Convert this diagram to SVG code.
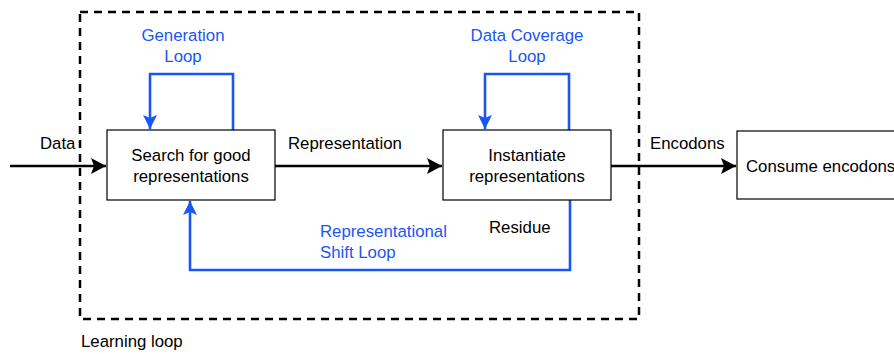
<svg xmlns="http://www.w3.org/2000/svg" width="894" height="354" viewBox="0 0 894 354">
<style>
text{font-family:"Liberation Sans",Arial,sans-serif;font-size:16.8px;fill:#000}
.blue{fill:#1a56f5}
.box{fill:#fff;stroke:#000;stroke-width:1.2}
.blk{fill:none;stroke:#000;stroke-width:2.4}
.bl{fill:none;stroke:#1a56f5;stroke-width:2.6}
</style>
<defs>
<marker id="ab" markerUnits="userSpaceOnUse" markerWidth="16" markerHeight="18" refX="15" refY="9" orient="auto" viewBox="0 0 16 18">
<path d="M0,1 L15,9 L0,17 L3,9 Z" fill="#000"/>
</marker>
<marker id="au" markerUnits="userSpaceOnUse" markerWidth="16" markerHeight="16" refX="14" refY="8" orient="auto" viewBox="0 0 16 16">
<path d="M0,1 L14,8 L0,15 L3,8 Z" fill="#1a56f5"/>
</marker>
</defs>
<g id="learning-loop">
<rect x="80" y="12" width="559" height="307" fill="none" stroke="#000" stroke-width="2.5" stroke-dasharray="8 6"/>
<text x="81" y="347">Learning loop</text>
</g>
<g id="connectors">
<line class="blk" x1="10" y1="166" x2="106" y2="166" marker-end="url(#ab)"/>
<line class="blk" x1="275" y1="166" x2="442" y2="166" marker-end="url(#ab)"/>
<line class="blk" x1="611" y1="166" x2="736" y2="166" marker-end="url(#ab)"/>
<polyline class="bl" points="233,130 233,74 150,74 150,129" marker-end="url(#au)"/>
<polyline class="bl" points="569,130 569,74 485,74 485,129" marker-end="url(#au)"/>
<polyline class="bl" points="570,200 570,270 190,270 190,201" marker-end="url(#au)"/>
<text x="40" y="149">Data</text>
<text x="288" y="149">Representation</text>
<text x="650" y="149">Encodons</text>
<text x="489" y="233">Residue</text>
<text class="blue" x="183" y="41" text-anchor="middle">Generation</text>
<text class="blue" x="183" y="62" text-anchor="middle">Loop</text>
<text class="blue" x="527" y="41" text-anchor="middle">Data Coverage</text>
<text class="blue" x="527" y="62" text-anchor="middle">Loop</text>
<text class="blue" x="320" y="237">Representational</text>
<text class="blue" x="320" y="258">Shift Loop</text>
</g>
<g id="search">
<rect class="box" x="107" y="130" width="168" height="70"/>
<text x="191" y="161" text-anchor="middle">Search for good</text>
<text x="191" y="182" text-anchor="middle">representations</text>
</g>
<g id="instantiate">
<rect class="box" x="443" y="130" width="168" height="70"/>
<text x="527" y="161" text-anchor="middle">Instantiate</text>
<text x="527" y="182" text-anchor="middle">representations</text>
</g>
<g id="consume">
<rect class="box" x="737" y="131" width="168" height="68"/>
<text x="746" y="172">Consume encodons</text>
</g>
</svg>
